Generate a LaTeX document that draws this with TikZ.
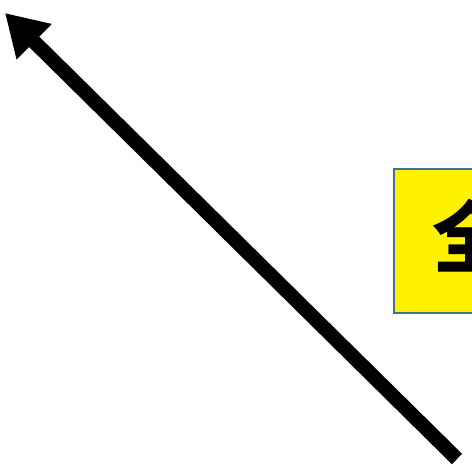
\documentclass[tikz,border=0pt]{standalone}
\usepackage{fontspec}
\newfontfamily\cjk{Noto Sans CJK SC}
\usetikzlibrary{arrows.meta}
\definecolor{boxblue}{HTML}{41719C}
\tikzset{
  bigarrow/.style={line width=14.5pt, -{Triangle[length=41pt, width=47pt]}},
  labelbox/.style={draw=boxblue, line width=2pt, fill=yellow},
}
\begin{document}
\begin{tikzpicture}[x=1pt, y=-1pt]
        \useasboundingbox (0,0) rectangle (472,470);

        % yellow label box, runs past the right edge
        \begin{scope}
            \clip (0,0) rectangle (472,470);
            \path[labelbox] (394,169) rectangle (520,313);
            \node[anchor=west, inner sep=0pt, font=\cjk\bfseries\fontsize{78}{78}\selectfont] (quan) at (432,236) {全};
        \end{scope}

        % arrow
        \coordinate (start) at (457,459);
        \coordinate (tip) at (5,13);
        \draw[bigarrow] (start) -- (tip);
    \end{tikzpicture}
\end{document}
